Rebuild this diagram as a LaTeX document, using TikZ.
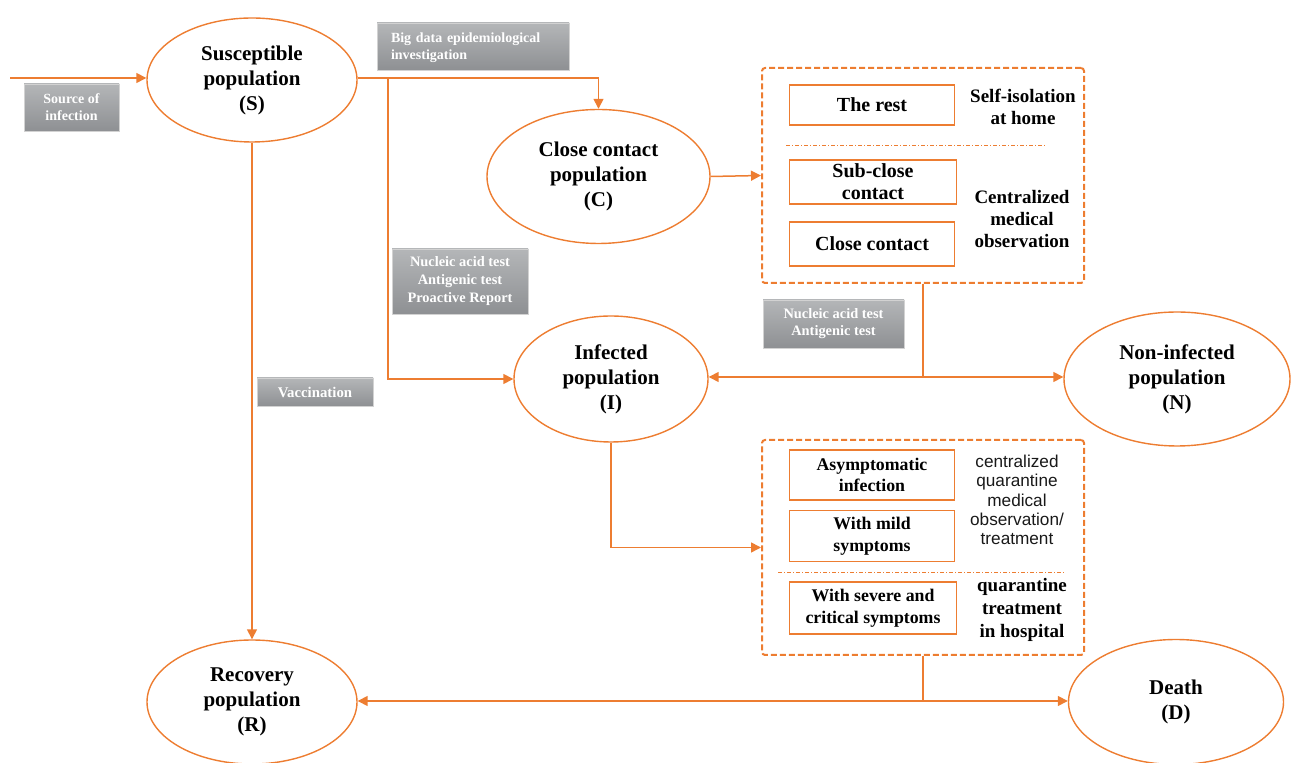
\documentclass[tikz,border=0pt]{standalone}
\usepackage{fontspec}
\setmainfont{Liberation Serif}
\newfontfamily\lsans{Liberation Sans}
\usetikzlibrary{shapes.geometric,arrows.meta}
\definecolor{org}{HTML}{ED7D31}
\definecolor{gtop}{HTML}{B4B6B8}
\definecolor{gbot}{HTML}{8E9093}
\tikzset{
  pop/.style={ellipse,draw=org,line width=0.7pt,inner sep=0pt,align=center,
    font=\fontsize{10.5}{12.5}\selectfont\bfseries},
  inbox/.style={rectangle,draw=org,line width=0.7pt,inner sep=0pt,align=center,
    font=\fontsize{10}{11}\selectfont\bfseries},
  inboxs/.style={inbox,font=\fontsize{8.9}{10.8}\selectfont\bfseries},
  gbox/.style={rectangle,draw=gray!35,line width=0.4pt,top color=gtop,bottom color=gbot,
    inner sep=0pt,align=center,text=white,font=\fontsize{7}{8.5}\selectfont\bfseries},
  dbox/.style={rectangle,draw=org,line width=1pt,dashed,dash pattern=on 3pt off 1.5pt,
    rounded corners=1.5pt,inner sep=0pt},
  side/.style={align=center,font=\fontsize{9.5}{11}\selectfont\bfseries},
  sside/.style={align=center,text=black!90,font=\lsans\fontsize{8.6}{9.6}\selectfont},
  ln/.style={draw=org,line width=0.75pt},
  arr/.style={ln,-{Triangle[length=5pt,width=5pt]}},
  dd/.style={draw=org,line width=0.4pt,dash pattern=on 2pt off 1pt on 0.5pt off 1pt},
}
\begin{document}
\begin{tikzpicture}[x=0.5pt,y=-0.5pt]
\useasboundingbox (0,0) rectangle (1296,763);
% ellipses
\node[pop,minimum width=105pt,minimum height=62pt] (S) at (252,80) {Susceptible\\population\\(S)};
\node[pop,minimum width=111.5pt,minimum height=67pt] (C) at (598.5,176.5) {Close contact\\population\\(C)};
\node[pop,minimum width=97pt,minimum height=63pt] (I) at (611,379) {Infected\\population\\(I)};
\node[pop,minimum width=113pt,minimum height=67pt] (N) at (1177,379) {Non-infected\\population\\(N)};
\node[pop,minimum width=105pt,minimum height=62pt] (R) at (252,702) {Recovery\\population\\(R)};
\node[pop,minimum width=107.5pt,minimum height=62.5pt] (D) at (1176,702) {Death\\(D)};
% dashed boxes
\node[dbox,minimum width=161pt,minimum height=107.5pt] (up) at (923,175.5) {};
\node[dbox,minimum width=161pt,minimum height=107.5pt] (low) at (923,547.5) {};
% inner boxes
\node[inbox,minimum width=82.5pt,minimum height=20pt] (rest) at (872,105) {The rest};
\node[inbox,minimum width=83.5pt,minimum height=22pt] (sub) at (873,182) {Sub-close\\contact};
\node[inbox,minimum width=82.5pt,minimum height=22pt] (close) at (872,244) {Close contact};
\node[inboxs,minimum width=82.5pt,minimum height=25pt] (asym) at (872,475) {Asymptomatic\\infection};
\node[inboxs,minimum width=82.5pt,minimum height=25.5pt] (mild) at (872,536) {With mild\\symptoms};
\node[inboxs,minimum width=83.5pt,minimum height=26pt] (sev) at (873,608) {With severe and\\critical symptoms};
% side labels
\node[side] (l1) at (1023,107) {Self-isolation\\at home};
\node[side] (l2) at (1022,219) {Centralized\\medical\\observation};
\node[sside] (l3) at (1017,500) {centralized\\quarantine\\medical\\observation/\\treatment};
\node[side,font=\fontsize{9.5}{11.3}\selectfont\bfseries] (l4) at (1022,610) {quarantine\\treatment\\in hospital};
% separators
\coordinate (sa) at (786,145); \coordinate (sb) at (1046,145);
\coordinate (sc) at (778,572); \coordinate (sd) at (1064,572);
\draw[dd] (sa) -- (sb);
\draw[dd] (sc) -- (sd);
% gray boxes
\node[gbox,minimum width=47.5pt,minimum height=23.5pt] (g1) at (71.5,107.5) {Source of\\infection};
\node[gbox,minimum width=96pt,minimum height=23.5pt] (g2) at (473,46.5) {};
\node[align=left,text width=82pt,inner sep=0pt,text=white,font=\fontsize{7}{8.5}\selectfont\bfseries] (g2t) at (473,48) {Big data epidemiological\\investigation};
\node[gbox,minimum width=68pt,minimum height=32.5pt,font=\fontsize{7.2}{9}\selectfont\bfseries] (g3) at (460,281.5) {Nucleic acid test\\Antigenic test\\Proactive Report};
\node[gbox,minimum width=70.5pt,minimum height=24pt,font=\fontsize{7.2}{8.5}\selectfont\bfseries] (g4) at (833.5,324) {Nucleic acid test\\Antigenic test};
\node[gbox,minimum width=58pt,minimum height=14pt,font=\fontsize{7.4}{8.5}\selectfont\bfseries] (g5) at (315,392) {Vaccination};
% connectors
\coordinate (src) at (10,78);
\coordinate (j1) at (388,78);
\coordinate (j2) at (923,377);
\coordinate (j3) at (923,701);
\draw[arr] (src) -- (src -| S.west);
\draw[arr] (j1 -| S.east) -| (C.north);
\draw[arr] (j1) |- (I.west);
\draw[arr] (C.east) -- (up.west);
\draw[ln] (up.south) -- (j2);
\draw[arr] (j2) -- (j2 -| I.east);
\draw[arr] (j2) -- (j2 -| N.west);
\draw[arr] (S.south) -- (R.north);
\draw[arr] (I.south) |- (low.west);
\draw[ln] (low.south) -- (j3);
\draw[arr] (j3) -- (j3 -| R.east);
\draw[arr] (j3) -- (j3 -| D.west);
\end{tikzpicture}
\end{document}
